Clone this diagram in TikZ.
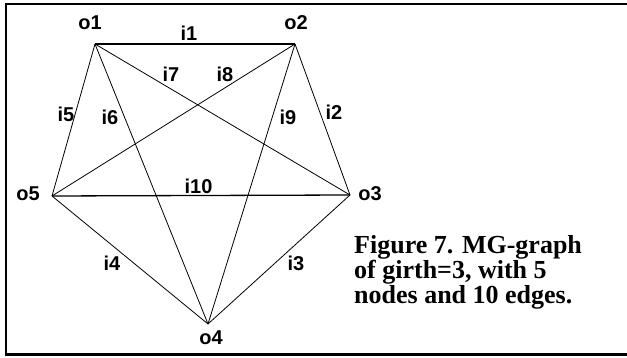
\documentclass[tikz,border=0pt]{standalone}
\usepackage{fontspec}
\setmainfont{Liberation Serif}
\newfontfamily\lblfont{Liberation Sans}

\begin{document}
\begin{tikzpicture}[
		x=1pt, y=-1pt,
		edge/.style={line width=0.8pt},
		flat/.style={line width=1.3pt},
		vname/.style={font=\lblfont\bfseries\fontsize{20}{21}\selectfont, inner sep=0pt},
		ename/.style={vname},
		caption/.style={font=\bfseries\fontsize{26}{25}\selectfont, align=left, inner sep=0pt, anchor=north west}
		]
		\useasboundingbox (0,0) rectangle (627,358);
		
		% --- Frame ---
		\draw[line width=2.5pt] (627,4) -- (6,4) -- (6,354.5) -- (627,354.5);
		
		% --- Vertices ---
		\coordinate (o1) at (95,44);
		\coordinate (o2) at (295,44);
		\coordinate (o3) at (350,195);
		\coordinate (o4) at (208,324);
		\coordinate (o5) at (52,196);
		
		\node[vname] (n1) at (90,23) {o1};
		\node[vname] (n2) at (296,23) {o2};
		\node[vname] (n3) at (370,194) {o3};
		\node[vname] (n4) at (211,338) {o4};
		\node[vname] (n5) at (28,194) {o5};
		
		% --- Outer cycle ---
		\draw[flat] (o1) -- (o2);
		\draw[edge] (o2) -- (o3);
		\draw[edge] (o3) -- (o4);
		\draw[edge] (o4) -- (o5);
		\draw[edge] (o5) -- (o1);
		
		% --- Chords ---
		\draw[edge] (o1) -- (o4);
		\draw[edge] (o1) -- (o3);
		\draw[edge] (o2) -- (o5);
		\draw[edge] (o2) -- (o4);
		\draw[flat] (o5) -- (o3);
		
		% --- Edge names ---
		\node[ename] (i1) at (189,33) {i1};
		\node[ename] (i2) at (334,112) {i2};
		\node[ename] (i3) at (296,263) {i3};
		\node[ename] (i4) at (112,263) {i4};
		\node[ename] (i5) at (66,114) {i5};
		\node[ename] (i6) at (110,117) {i6};
		\node[ename] (i7) at (171,74.5) {i7};
		\node[ename] (i8) at (225,74.5) {i8};
		\node[ename] (i9) at (288,117) {i9};
		\node[ename] (i10) at (198.5,186) {i10};
		
		% --- Caption ---
		\node[caption] (cap) at (354,235) {Figure 7. MG-graph\\of girth=3, with 5\\nodes and 10 edges.};
		
	\end{tikzpicture}
\end{document}
